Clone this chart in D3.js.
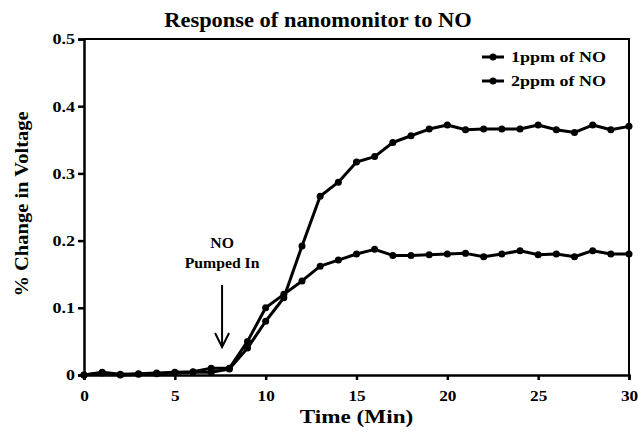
<!DOCTYPE html>
<html>
<head>
<meta charset="utf-8">
<script src="https://cdn.jsdelivr.net/npm/d3@7"></script>
<style>
  body { margin: 0; background: #fff; }
  text { font-family: "Liberation Serif", "Times New Roman", serif; font-weight: bold; fill: #000; }
</style>
</head>
<body>
<div id="chart"></div>
<script>
// data
var minutes = d3.range(0, 31);
var ppm1 = [0, 0.004, 0.001, 0.002, 0.003, 0.004, 0.005, 0.01, 0.01, 0.05, 0.1,
            0.12, 0.14, 0.162, 0.171, 0.18, 0.187, 0.178, 0.178, 0.179, 0.18,
            0.181, 0.176, 0.18, 0.185, 0.179, 0.18, 0.176, 0.185, 0.18, 0.18];
var ppm2 = [0, 0.003, 0, 0.001, 0.002, 0.003, 0.004, 0.004, 0.009, 0.04, 0.08,
            0.115, 0.192, 0.266, 0.287, 0.317, 0.325, 0.346, 0.356, 0.366, 0.372,
            0.365, 0.366, 0.366, 0.366, 0.372, 0.365, 0.361, 0.372, 0.365, 0.37];
var seriesNames = ["1ppm of NO", "2ppm of NO"];
var xTicks = [0, 5, 10, 15, 20, 25, 30];
var yTicks = [0, 0.1, 0.2, 0.3, 0.4, 0.5];

var width = 639, height = 434;
var margin = {top: 39, right: 10, bottom: 59, left: 84};

var svg = d3.select("#chart").append("svg")
    .attr("width", width)
    .attr("height", height);

var x = d3.scaleLinear().domain([0, 30]).range([margin.left, width - margin.right]);
var y = d3.scaleLinear().domain([0, 0.5]).range([height - margin.bottom, margin.top]);

// the original text looks a bit wide, so stretch it sideways
function label(px, py, str, size, sx, anchor) {
  return svg.append("text")
      .attr("transform", "translate(" + px + "," + py + ") scale(" + sx + ",1)")
      .attr("text-anchor", anchor || "middle")
      .style("font-size", size + "px")
      .text(str);
}

// frame top + right
svg.append("path")
    .attr("d", "M" + x(0) + "," + y(0.5) + "H" + x(30) + "V" + y(0))
    .attr("fill", "none")
    .attr("stroke", "#000")
    .attr("stroke-width", 2);

// axes
var xAxis = svg.append("g")
    .attr("transform", "translate(0," + y(0) + ")")
    .call(d3.axisBottom(x).tickValues(xTicks).tickSize(5).tickPadding(10).tickFormat(d3.format("d")));
var yAxis = svg.append("g")
    .attr("transform", "translate(" + x(0) + ",0)")
    .call(d3.axisLeft(y).tickValues(yTicks).tickSize(6).tickPadding(9)
        .tickFormat(function(d) { return d === 0 ? "0" : d3.format(".1f")(d); }));

[xAxis, yAxis].forEach(function(a) {
  a.select(".domain").attr("stroke-width", 2.5);
  a.selectAll(".tick line").attr("stroke-width", 2.5);
  a.selectAll(".tick text")
      .style("font-size", "15px")
      .style("font-family", "Liberation Serif")
      .style("font-weight", "bold");
});
xAxis.selectAll(".tick text").attr("transform", "scale(1.15,1)")
    .attr("x", 0);
yAxis.selectAll(".tick text").attr("x", -9 / 1.2).attr("transform", "scale(1.2,1)");

// lines
var line = d3.line()
    .x(function(d, i) { return x(minutes[i]); })
    .y(function(d) { return y(d); });

[ppm1, ppm2].forEach(function(s) {
  svg.append("path")
      .datum(s)
      .attr("d", line)
      .attr("fill", "none")
      .attr("stroke", "#000")
      .attr("stroke-width", 3)
      .attr("stroke-linejoin", "round");
  svg.append("g").selectAll("circle")
      .data(s).enter()
      .append("circle")
      .attr("cx", function(d, i) { return x(minutes[i]); })
      .attr("cy", function(d) { return y(d); })
      .attr("r", 3.5)
      .attr("fill", "#000");
});

// title
label(318, 27, "Response of nanomonitor to NO", 22, 1.02);

// axis titles
label((x(0) + x(30)) / 2, 423, "Time (Min)", 19, 1.22);

svg.append("text")
    .attr("transform", "translate(28," + (y(0.25) - 3) + ") rotate(-90) scale(1.08,1)")
    .attr("text-anchor", "middle")
    .style("font-size", "19px")
    .text("% Change in Voltage");

// annotation
var ax = x(7.6);
label(ax, 248, "NO", 15, 1.05);
label(ax, 268, "Pumped In", 15, 1.05);
svg.append("line")
    .attr("x1", ax).attr("x2", ax)
    .attr("y1", 285).attr("y2", 346)
    .attr("stroke", "#000").attr("stroke-width", 2);
svg.append("path")
    .attr("d", "M" + (ax - 7) + ",333L" + ax + ",347L" + (ax + 7) + ",333")
    .attr("fill", "none").attr("stroke", "#000").attr("stroke-width", 2);

// legend
var legend = svg.append("g");
seriesNames.forEach(function(name, i) {
  var ly = 57 + i * 24;
  legend.append("line")
      .attr("x1", 482).attr("x2", 504).attr("y1", ly).attr("y2", ly)
      .attr("stroke", "#000").attr("stroke-width", 3);
  legend.append("circle").attr("cx", 493).attr("cy", ly).attr("r", 3.5).attr("fill", "#000");
  label(511, ly + 5, name, 15, 1.2, "start");
});
</script>
</body>
</html>
